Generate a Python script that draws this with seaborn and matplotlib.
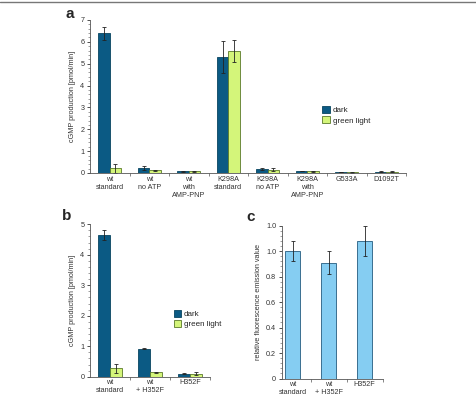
import numpy as np
import pandas as pd
import matplotlib
matplotlib.use("Agg")
import matplotlib.pyplot as plt
from matplotlib.lines import Line2D
from matplotlib.patches import Patch
from matplotlib.ticker import MultipleLocator, FixedLocator
import seaborn as sns

# panel a data
a_groups = ["wt\nstandard", "wt\nno ATP", "wt\nwith\nAMP-PNP", "K298A\nstandard",
            "K298A\nno ATP", "K298A\nwith\nAMP-PNP", "G533A", "D1092T"]
a_dark = [6.39, 0.24, 0.07, 5.31, 0.18, 0.09, 0.04, 0.06]
a_dark_err = [0.29, 0.10, 0.02, 0.72, 0.06, 0.02, 0.01, 0.02]
a_green = [0.21, 0.13, 0.07, 5.58, 0.16, 0.08, 0.03, 0.05]
a_green_err = [0.19, 0.03, 0.02, 0.50, 0.08, 0.03, 0.01, 0.02]

# panel b data
b_groups = ["wt\nstandard", "wt\n+ H352F", "H352F"]
b_dark = [4.65, 0.92, 0.10]
b_dark_err = [0.17, 0.02, 0.02]
b_green = [0.27, 0.14, 0.10]
b_green_err = [0.14, 0.03, 0.05]

# panel c data
c_groups = ["wt\nstandard", "wt\n+ H352F", "H352F"]
c_vals = [1.00, 0.91, 1.08]
c_err = [0.08, 0.09, 0.12]
c_ticks = [0, 0.2, 0.4, 0.6, 0.8, 1.0, 1.2]
c_ticklabels = ["0", "0.2", "0.4", "0.6", "0.8", "1.0", "1.0"]

hue_names = ["dark", "green light"]

sns.set_style("ticks")
plt.rcParams["font.family"] = ["Liberation Sans", "DejaVu Sans"]

DARK = "#0b5a84"
GREEN = "#d4f57a"
GREEN_EDGE = "#5a7a2a"
LBLUE = "#85cdf2"
LBLUE_EDGE = "#3a6f90"
FS = 5.2

fig = plt.figure(figsize=(4.76, 3.99), dpi=100)
fig.add_artist(Line2D([0, 1], [0.995, 0.995], color="#777777", lw=1.0))


def grouped(ax, groups, dark, dark_err, green, green_err, width):
    df = pd.DataFrame({
        "group": list(groups) * 2,
        "cond": [hue_names[0]] * len(groups) + [hue_names[1]] * len(groups),
        "val": list(dark) + list(green),
    })
    sns.barplot(data=df, x="group", y="val", hue="cond", order=groups,
                hue_order=hue_names, palette=[DARK, GREEN], errorbar=None,
                width=width, gap=0, ax=ax, linewidth=0.6, saturation=1,
                legend=False)
    edges = ["#08445f", GREEN_EDGE]
    for cont, errs, ec in zip(ax.containers, [dark_err, green_err], edges):
        for p, e in zip(cont.patches, errs):
            p.set_edgecolor(ec)
            ax.errorbar(p.get_x() + p.get_width() / 2, p.get_height(), yerr=e,
                        fmt="none", ecolor="#222222", elinewidth=0.6,
                        capsize=1.6, capthick=0.6)


def style(ax, n, ylabel):
    ax.set_xlim(-0.5, n - 0.5)
    ax.set_xlabel("")
    ax.set_ylabel(ylabel, fontsize=FS, color="#333333", labelpad=3)
    ax.tick_params(axis="x", which="major", length=0, labelsize=FS, pad=2,
                   colors="#333333")
    ax.xaxis.set_minor_locator(FixedLocator(np.arange(0.5, n, 1.0)))
    ax.tick_params(axis="x", which="minor", length=2, width=0.5, color="#555555")
    ax.tick_params(axis="y", which="major", length=2.5, width=0.6, labelsize=FS,
                   pad=1.5, colors="#333333")
    ax.tick_params(axis="y", which="minor", length=1.2, width=0.4, color="#555555")
    for s in ["top", "right"]:
        ax.spines[s].set_visible(False)
    for s in ["left", "bottom"]:
        ax.spines[s].set_linewidth(0.6)
        ax.spines[s].set_color("#555555")


def add_legend(ax, x, y):
    handles = [Patch(facecolor=DARK, edgecolor="#08445f", lw=0.6),
               Patch(facecolor=GREEN, edgecolor=GREEN_EDGE, lw=0.6)]
    ax.legend(handles, hue_names, loc="upper left", bbox_to_anchor=(x, y),
              frameon=False, fontsize=FS + 0.6, handlelength=0.9,
              handleheight=0.9, handletextpad=0.4, labelspacing=0.3,
              borderaxespad=0)


# panel a
ax_a = fig.add_axes([90 / 476, 1 - 173 / 399, 316 / 476, 153 / 399])
grouped(ax_a, a_groups, a_dark, a_dark_err, a_green, a_green_err, 0.58)
style(ax_a, len(a_groups), "cGMP production [pmol/min]")
ax_a.set_ylim(0, 7)
ax_a.yaxis.set_major_locator(MultipleLocator(1))
ax_a.yaxis.set_minor_locator(MultipleLocator(0.2))
add_legend(ax_a, 0.725, 0.46)
fig.text(66 / 476, 1 - 18 / 399, "a", fontsize=11, fontweight="bold")

# panel b
ax_b = fig.add_axes([90 / 476, 1 - 376.7 / 399, 120 / 476, 152.4 / 399])
grouped(ax_b, b_groups, b_dark, b_dark_err, b_green, b_green_err, 0.58)
style(ax_b, len(b_groups), "cGMP production [pmol/min]")
ax_b.set_ylim(0, 5)
ax_b.yaxis.set_major_locator(MultipleLocator(1))
ax_b.yaxis.set_minor_locator(MultipleLocator(0.2))
add_legend(ax_b, 0.67, 0.46)
fig.text(62 / 476, 1 - 220 / 399, "b", fontsize=11, fontweight="bold")

# panel c
ax_c = fig.add_axes([281.7 / 476, 1 - 378.5 / 399, 101 / 476, 152.8 / 399])
df_c = pd.DataFrame({"group": c_groups, "val": c_vals})
sns.barplot(data=df_c, x="group", y="val", order=c_groups, color=LBLUE,
            saturation=1, errorbar=None, width=0.41, linewidth=0.7,
            edgecolor=LBLUE_EDGE, ax=ax_c)
for p, e in zip(ax_c.patches, c_err):
    ax_c.errorbar(p.get_x() + p.get_width() / 2, p.get_height(), yerr=e,
                  fmt="none", ecolor="#222222", elinewidth=0.6,
                  capsize=1.6, capthick=0.6)
style(ax_c, len(c_groups), "relative fluorescence emission value")
ax_c.set_xlim(-0.31, 2.5)
ax_c.set_ylim(0, 1.2)
ax_c.yaxis.set_major_locator(FixedLocator(c_ticks))
ax_c.set_yticklabels(c_ticklabels)
ax_c.yaxis.set_minor_locator(MultipleLocator(0.04))
fig.text(246 / 476, 1 - 221 / 399, "c", fontsize=11, fontweight="bold")

fig.savefig("out.png", dpi=100)
